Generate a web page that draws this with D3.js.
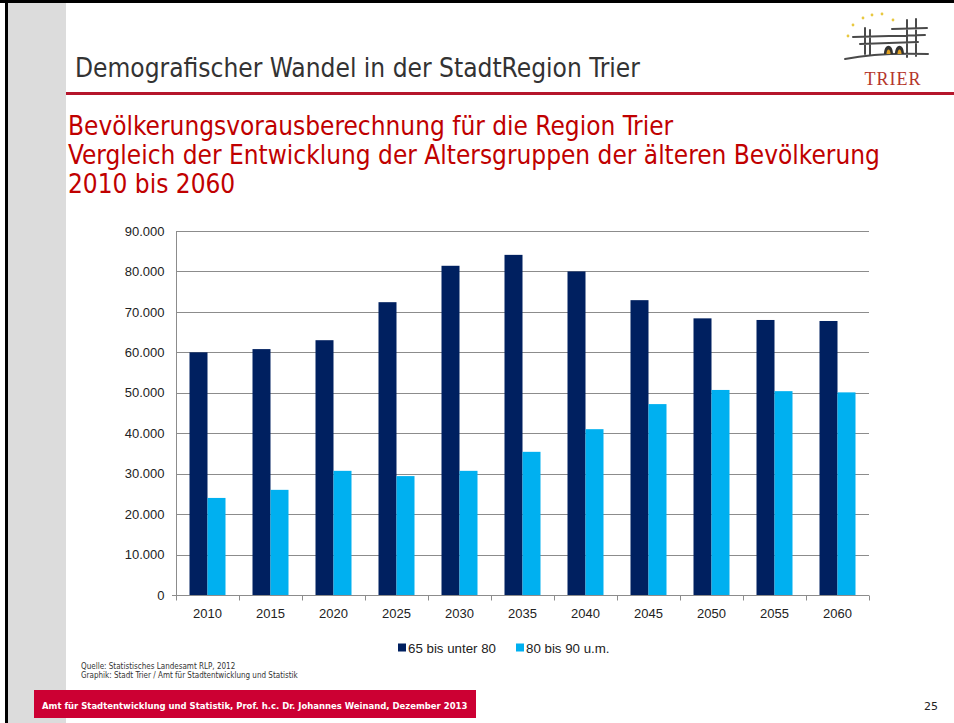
<!DOCTYPE html>
<html>
<head>
<meta charset="utf-8">
<script src="https://cdn.jsdelivr.net/npm/d3@7"></script>
<style>
  body { margin: 0; background: #fff; }
  svg { display: block; }
</style>
</head>
<body>
<div id="chart"></div>
<script>
// chart data
var years = ["2010", "2015", "2020", "2025", "2030", "2035", "2040", "2045", "2050", "2055", "2060"];
var seriesNames = ["65 bis unter 80", "80 bis 90 u.m."];
var age65to80 = [60000, 60800, 63000, 72400, 81400, 84100, 80000, 72900, 68400, 68000, 67750];
var age80to90 = [24000, 26000, 30700, 29400, 30700, 35400, 41000, 47200, 50700, 50400, 50100];
var yTicks = [0, 10000, 20000, 30000, 40000, 50000, 60000, 70000, 80000, 90000];
var colors = ["#002060", "#00b0f0"];

var svgWidth = 954;
var svgHeight = 723;

var margin = { top: 231, right: 85, bottom: 128, left: 176 };
var width = svgWidth - margin.left - margin.right;
var height = svgHeight - margin.top - margin.bottom;

var svg = d3.select("#chart")
  .append("svg")
  .attr("width", svgWidth)
  .attr("height", svgHeight);

// helper: shrink/grow font so a text spans the width seen on the slide
function fitText(sel, target) {
  var node = sel.node();
  var len = node.getComputedTextLength();
  var fs = parseFloat(sel.attr("font-size"));
  sel.attr("font-size", (fs * target / len).toFixed(2));
}

// ---- slide frame ----
svg.append("rect")
  .attr("x", 8).attr("y", 3)
  .attr("width", 58).attr("height", svgHeight - 3)
  .attr("fill", "#dcdcdc");

svg.append("line")
  .attr("x1", 0).attr("x2", svgWidth).attr("y1", 1.5).attr("y2", 1.5)
  .attr("stroke", "#000").attr("stroke-width", 3);
svg.append("line")
  .attr("x1", 6.5).attr("x2", 6.5).attr("y1", 0).attr("y2", svgHeight)
  .attr("stroke", "#000").attr("stroke-width", 3);

// header
var head = svg.append("text")
  .attr("x", 75).attr("y", 77)
  .attr("font-family", "'Liberation Sans Narrow', 'DejaVu Sans Condensed', sans-serif")
  .attr("font-size", 24)
  .attr("fill", "#333")
  .text("Demografischer Wandel in der StadtRegion Trier");
fitText(head, 565);

svg.append("rect")
  .attr("x", 66).attr("y", 92)
  .attr("width", svgWidth - 66).attr("height", 3)
  .attr("fill", "#b5152b");

// logo (rough sketch of the Trier mark)
var logo = svg.append("g");
[[853, 25], [863, 18], [872, 15], [882, 14], [893, 20], [848, 36]].forEach(function(p) {
  logo.append("circle").attr("cx", p[0]).attr("cy", p[1]).attr("r", 1.4).attr("fill", "#e8c840");
});
logo.append("path")
  .attr("d", "M892,29 L927,28 M853,37 L925,35 M860,44 L918,42 M865,28 L865,54 M870,30 L870,54 M907,20 L907,57 M916,19 L916,56 M845,59 C870,54 900,53 928,54")
  .attr("fill", "none").attr("stroke", "#4a4a4a").attr("stroke-width", 2).attr("stroke-linecap", "round");
logo.append("path")
  .attr("d", "M884,54 C884,43 893,43 893,54 Z M895,54 C895,43 904,43 904,54 Z")
  .attr("fill", "#333");
logo.append("path")
  .attr("d", "M886.5,54 C886.5,48 890.5,48 890.5,54 Z M897.5,54 C897.5,48 901.5,48 901.5,54 Z")
  .attr("fill", "#e0a020");
logo.append("text")
  .attr("x", 893).attr("y", 85)
  .attr("text-anchor", "middle")
  .attr("font-family", "'Liberation Serif', serif")
  .attr("font-size", 18)
  .attr("letter-spacing", 1)
  .attr("fill", "#b5362b")
  .text("TRIER");

// red titles
var titleLines = [
  "Bevölkerungsvorausberechnung für die Region Trier",
  "Vergleich der Entwicklung der Altersgruppen der älteren Bevölkerung",
  "2010 bis 2060"
];
var titleGroup = svg.append("g");
titleLines.forEach(function(t, i) {
  titleGroup.append("text")
    .attr("x", 68).attr("y", 135 + i * 29)
    .attr("font-family", "'DejaVu Sans Condensed', 'DejaVu Sans', sans-serif")
    .attr("font-size", 24)
    .attr("fill", "#c00000")
    .text(t);
});
// match second (longest) line width, apply same size to all
var probe = titleGroup.selectAll("text").filter(function(d, i) { return i === 1; });
var tl = probe.node().getComputedTextLength();
titleGroup.selectAll("text").attr("font-size", (24 * 812 / tl).toFixed(2));

// ---- chart ----
var chartGroup = svg.append("g")
  .attr("transform", `translate(${margin.left}, ${margin.top})`);

var x0 = d3.scaleBand()
  .domain(years)
  .range([0, width])
  .padding(0);

var x1 = d3.scaleBand()
  .domain(seriesNames)
  .range([0, x0.bandwidth()])
  .paddingInner(0)
  .paddingOuter(0.75);

var y = d3.scaleLinear()
  .domain([0, 90000])
  .range([height, 0]);

// gridlines
chartGroup.append("g")
  .selectAll("line")
  .data(yTicks.filter(d => d > 0))
  .enter()
  .append("line")
  .attr("x1", 0).attr("x2", width)
  .attr("y1", d => Math.round(y(d)) + 0.5)
  .attr("y2", d => Math.round(y(d)) + 0.5)
  .attr("stroke", "#8c8c8c")
  .attr("stroke-width", 1);

// bars
var data = years.map(function(yr, i) {
  return { year: yr, values: [age65to80[i], age80to90[i]] };
});

var groups = chartGroup.selectAll(".yearGroup")
  .data(data)
  .enter()
  .append("g")
  .attr("transform", d => `translate(${x0(d.year)}, 0)`);

groups.selectAll("rect")
  .data(d => d.values.map((v, k) => ({ key: seriesNames[k], value: v, k: k })))
  .enter()
  .append("rect")
  .attr("x", d => x1(d.key))
  .attr("y", d => y(d.value))
  .attr("width", x1.bandwidth())
  .attr("height", d => height - y(d.value))
  .attr("fill", d => colors[d.k]);

// left axis
var leftAxis = d3.axisLeft(y)
  .tickValues(yTicks)
  .tickSize(0)
  .tickPadding(12)
  .tickFormat(d => d === 0 ? "0" : d3.format(",")(d).replace(/,/g, "."));

var yAxis = chartGroup.append("g")
  .attr("transform", "translate(0.5,0)")
  .call(leftAxis);
yAxis.select(".domain").attr("stroke", "#8c8c8c").attr("d", `M0,0V${height}`);
yAxis.selectAll("text")
  .attr("font-family", "'Liberation Sans', Arial, sans-serif")
  .attr("font-size", 13)
  .attr("fill", "#222");

// bottom axis
var xAxis = chartGroup.append("g")
  .attr("transform", `translate(0, ${height + 0.5})`)
  .call(d3.axisBottom(x0).tickSize(0).tickPadding(13));
xAxis.select(".domain").attr("stroke", "#8c8c8c").attr("d", `M-4,0H${width}`);
xAxis.selectAll("text")
  .attr("font-family", "'Liberation Sans', Arial, sans-serif")
  .attr("font-size", 13)
  .attr("fill", "#222");

// category boundary ticks
xAxis.append("g")
  .selectAll("line")
  .data(years.concat(["end"]))
  .enter()
  .append("line")
  .attr("x1", (d, i) => Math.round(i * x0.step()) + 0.5)
  .attr("x2", (d, i) => Math.round(i * x0.step()) + 0.5)
  .attr("y1", 0).attr("y2", 5)
  .attr("stroke", "#8c8c8c");

// legend
var legend = svg.append("g").attr("transform", "translate(398, 643.5)");
var lx = [0, 118];
seriesNames.forEach(function(name, i) {
  legend.append("rect")
    .attr("x", lx[i]).attr("y", 0)
    .attr("width", 8).attr("height", 8)
    .attr("fill", colors[i]);
  legend.append("text")
    .attr("x", lx[i] + 10).attr("y", 9.5)
    .attr("font-family", "'Liberation Sans', Arial, sans-serif")
    .attr("font-size", 13.3)
    .attr("fill", "#222")
    .text(name);
});

// source
var src = svg.append("g")
  .attr("font-family", "'Liberation Sans Narrow', 'DejaVu Sans Condensed', sans-serif")
  .attr("font-size", 8)
  .attr("fill", "#333");
src.append("text").attr("x", 81).attr("y", 669).text("Quelle: Statistisches Landesamt RLP, 2012");
src.append("text").attr("x", 81).attr("y", 678).text("Graphik: Stadt Trier / Amt für Stadtentwicklung und Statistik");

// footer band
svg.append("rect")
  .attr("x", 34).attr("y", 690)
  .attr("width", 442).attr("height", 28)
  .attr("fill", "#cc0033");
var foot = svg.append("text")
  .attr("x", 42).attr("y", 709)
  .attr("font-family", "'DejaVu Sans Condensed', 'Liberation Sans', sans-serif")
  .attr("font-weight", "bold")
  .attr("font-size", 11)
  .attr("fill", "#fff")
  .text("Amt für Stadtentwicklung und Statistik, Prof. h.c. Dr. Johannes Weinand, Dezember 2013");
fitText(foot, 426);

svg.append("text")
  .attr("x", 938).attr("y", 710)
  .attr("text-anchor", "end")
  .attr("font-family", "'DejaVu Sans', sans-serif")
  .attr("font-size", 11)
  .attr("fill", "#222")
  .text("25");
</script>
</body>
</html>
